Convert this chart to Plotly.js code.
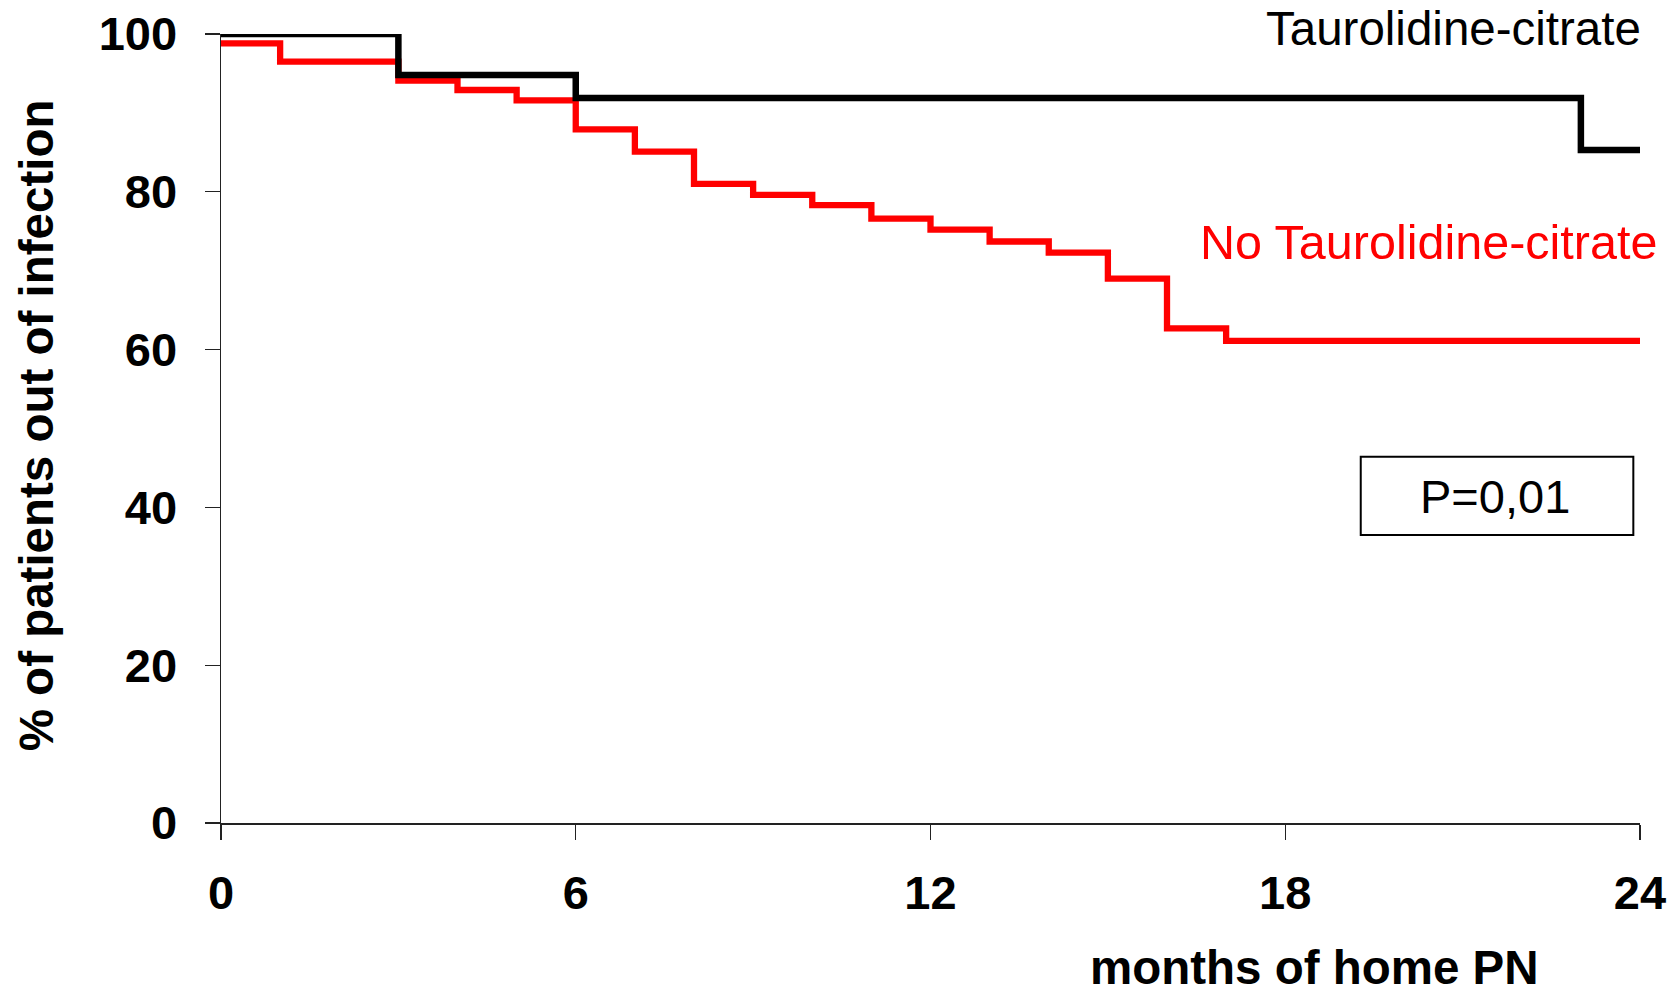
<!DOCTYPE html>
<html>
<head>
<meta charset="utf-8">
<script src="https://cdn.plot.ly/plotly-3.0.1.min.js"></script>
<style>
  html, body { margin: 0; padding: 0; background: #ffffff; }
  #chart { width: 1673px; height: 996px; }
</style>
</head>
<body>
<div id="chart"></div>
<script>
// Kaplan-Meier style survival curves (months of home PN vs % free of infection)
const monthsTauro = [0, 3, 6, 23, 24];
const pctTauro = [100, 94.8, 91.9, 85.3, 85.3];

const monthsNoTauro = [0, 1, 3, 4, 5, 6, 7, 8, 9, 10, 11, 12, 13, 14, 15, 16, 17, 24];
const pctNoTauro = [98.8, 96.5, 94.1, 92.9, 91.6, 87.9, 85.1, 81.0, 79.6, 78.3, 76.6, 75.2, 73.7, 72.3, 69.0, 62.7, 61.1, 61.1];

const xTicks = [0, 6, 12, 18, 24];
const yTicks = [0, 20, 40, 60, 80, 100];

const seriesNames = ["Taurolidine-citrate", "No Taurolidine-citrate"];
const pValueText = "P=0,01";
const xTitle = "months of home PN";
const yTitle = "% of patients out of infection";

const FONT = "Liberation Sans, Arial, Helvetica, sans-serif";

const traces = [
  {
    x: monthsNoTauro, y: pctNoTauro, type: "scatter", mode: "lines",
    line: { shape: "hv", color: "#ff0000", width: 6.3 },
    name: seriesNames[1], hoverinfo: "x+y"
  },
  {
    x: monthsTauro, y: pctTauro, type: "scatter", mode: "lines",
    line: { shape: "hv", color: "#000000", width: 6.5 },
    name: seriesNames[0], hoverinfo: "x+y"
  }
];

const layout = {
  width: 1673, height: 996,
  margin: { l: 221, r: 33, t: 34, b: 173, pad: 0 },
  paper_bgcolor: "#ffffff", plot_bgcolor: "#ffffff",
  showlegend: false,
  font: { family: FONT, color: "#000000" },
  xaxis: {
    range: [0, 24], tickvals: xTicks, ticktext: xTicks.map(String),
    showgrid: false, zeroline: false, showline: true, linecolor: "#222222", linewidth: 1.5,
    ticks: "outside", ticklen: 15, tickwidth: 1.2, tickcolor: "#222222",
    tickfont: { family: FONT, size: 47, weight: "bold", color: "#000000" },
    ticklabelstandoff: 13, fixedrange: true
  },
  yaxis: {
    range: [0, 100], tickvals: yTicks, ticktext: yTicks.map(String),
    showgrid: false, zeroline: false, showline: true, linecolor: "#222222", linewidth: 1.5,
    ticks: "outside", ticklen: 15, tickwidth: 1.2, tickcolor: "#222222",
    tickfont: { family: FONT, size: 47, weight: "bold", color: "#000000" },
    ticklabelstandoff: 18, fixedrange: true
  },
  shapes: [
    { type: "rect", xref: "paper", yref: "paper", x0: 0.8032, x1: 0.9953, y0: 0.365, y1: 0.4643,
      line: { color: "#000000", width: 2 }, fillcolor: "rgba(0,0,0,0)" }
  ],
  annotations: [
    { text: seriesNames[0], xref: "paper", yref: "paper", x: 1.0024, y: 1.0067,
      xanchor: "right", yanchor: "middle", showarrow: false,
      font: { family: FONT, size: 47.5, color: "#000000" } },
    { text: seriesNames[1], xref: "paper", yref: "paper", x: 1.0134, y: 0.7368,
      xanchor: "right", yanchor: "middle", showarrow: false,
      font: { family: FONT, size: 48.5, color: "#ff0000" } },
    { text: pValueText, xref: "paper", yref: "paper", x: 0.8975, y: 0.414,
      xanchor: "center", yanchor: "middle", showarrow: false,
      font: { family: FONT, size: 47, color: "#000000" } },
    { text: xTitle, xref: "paper", yref: "paper", x: 0.7705, y: -0.1835,
      xanchor: "center", yanchor: "middle", showarrow: false, borderpad: 0,
      font: { family: FONT, size: 47.5, weight: "bold", color: "#000000" } },
    { text: yTitle, xref: "paper", yref: "paper", x: -0.1298, y: 0.5038,
      xanchor: "center", yanchor: "middle", showarrow: false, textangle: -90,
      font: { family: FONT, size: 47.5, weight: "bold", color: "#000000" } }
  ]
};

Plotly.newPlot("chart", traces, layout, { displayModeBar: false, staticPlot: true });
</script>
</body>
</html>
